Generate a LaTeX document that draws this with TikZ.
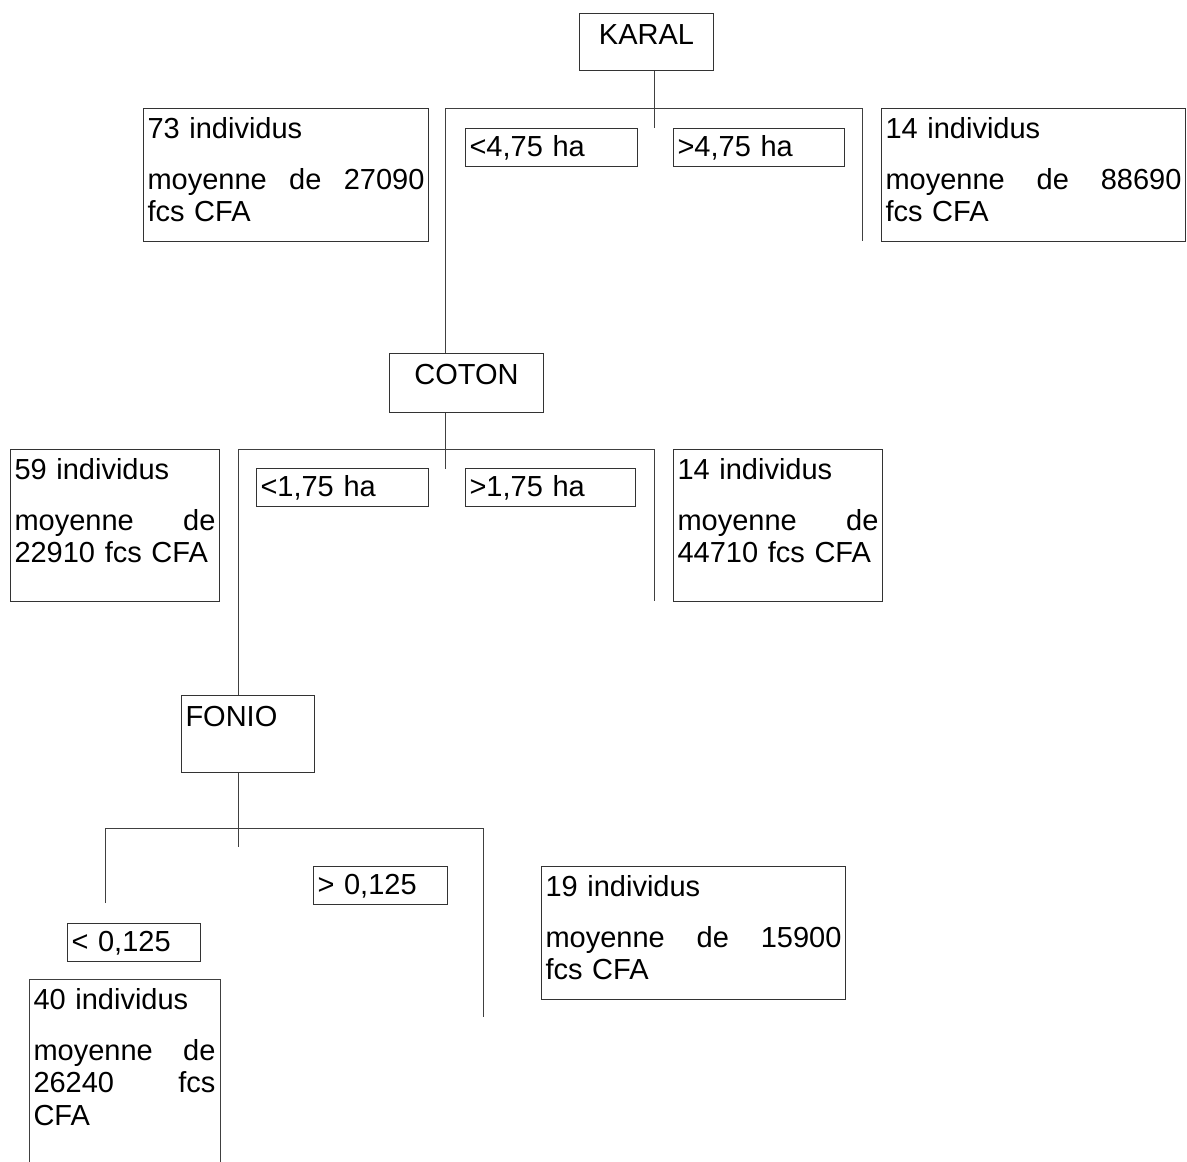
\documentclass[tikz,border=0pt]{standalone}
\usepackage{fontspec}
\setmainfont{Liberation Sans}

\tikzset{
  varbox/.style={draw=black!80, line width=1pt, anchor=north west,
    inner xsep=4pt, inner ysep=0pt, text width=#1, text height=31pt},
  cutbox/.style={draw=black!80, line width=1pt, anchor=north west,
    inner xsep=4pt, inner ysep=0pt, text width=#1, text height=28pt,
    text depth=10pt, align=left},
  leafbox/.style={draw=black!80, line width=1pt, anchor=north west,
    inner xsep=4pt, inner ysep=0pt, text width=#1, text height=30pt,
    align=left},
  link/.style={black!75, line width=1pt}
}

\begin{document}
\begin{tikzpicture}[x=1pt, y=-1pt, font=\fontsize{29}{32.5}\selectfont]
  \useasboundingbox (0,0) rectangle (1187,1162);

  % first split
  \node[varbox=126pt, text depth=26pt, align=center] (karal) at (579,13) {KARAL};
  \node[cutbox=164pt] (lt475) at (465,128) {<4,75 ha};
  \node[cutbox=163pt] (gt475) at (673,128) {>4,75 ha};
  \node[leafbox=277pt, text depth=103pt] (leaf73) at (143,108)
    {73 individus\par\vspace{18pt}moyenne\hfill de\hfill 27090\par fcs CFA};
  \node[leafbox=296pt, text depth=103pt] (leaf14a) at (881,108)
    {14 individus\par\vspace{18pt}moyenne\hfill de\hfill 88690\par fcs CFA};

  \coordinate (k-stem) at (654,128);
  \coordinate (k-left) at (445,108);
  \coordinate (k-right) at (862,108);
  \coordinate (k-end) at (862,241);
  \draw[link] (karal.south -| k-stem) -- (k-stem);

  % second split
  \node[varbox=146pt, text depth=28pt, align=center] (coton) at (389,353) {COTON};
  \node[cutbox=164pt] (lt175) at (256,468) {<1,75 ha};
  \node[cutbox=162pt] (gt175) at (465,468) {>1,75 ha};
  \node[leafbox=201pt, text depth=122pt] (leaf59) at (10,449)
    {59 individus\par\vspace{18pt}moyenne\hfill de\par 22910 fcs CFA};
  \node[leafbox=201pt, text depth=122pt] (leaf14b) at (673,449)
    {14 individus\par\vspace{18pt}moyenne\hfill de\par 44710 fcs CFA};

  \draw[link] (k-left |- coton.north) -- (k-left) -- (k-right) -- (k-end);

  \coordinate (c-stem) at (445,469);
  \coordinate (c-left) at (238,449);
  \coordinate (c-right) at (654,449);
  \coordinate (c-end) at (654,601);
  \draw[link] (coton.south -| c-stem) -- (c-stem);

  % third split
  \node[varbox=125pt, text depth=46pt, align=left] (fonio) at (181,695) {FONIO};
  \node[cutbox=126pt] (gt0125) at (313,866) {> 0,125};
  \node[cutbox=125pt] (lt0125) at (67,923) {< 0,125};
  \node[leafbox=296pt, text depth=103pt] (leaf19) at (541,866)
    {19 individus\par\vspace{18pt}moyenne\hfill de\hfill 15900\par fcs CFA};
  % this box runs off the bottom of the page, so no bottom edge
  \node[leafbox=182pt, text depth=153pt, draw=none] (leaf40) at (29,979)
    {40 individus\par\vspace{18pt}moyenne\hfill de\par 26240\hfill fcs\par CFA};
  \draw[link] (leaf40.south west) -- (leaf40.north west) -- (leaf40.north east)
    -- (leaf40.south east);

  \draw[link] (c-left |- fonio.north) -- (c-left) -- (c-right) -- (c-end);

  \coordinate (f-stem) at (238,847);
  \coordinate (f-left) at (105,828);
  \coordinate (f-right) at (483,828);
  \coordinate (f-lend) at (105,903);
  \coordinate (f-rend) at (483,1017);
  \draw[link] (fonio.south -| f-stem) -- (f-stem);
  \draw[link] (f-lend) -- (f-left) -- (f-right) -- (f-rend);
\end{tikzpicture}
\end{document}
